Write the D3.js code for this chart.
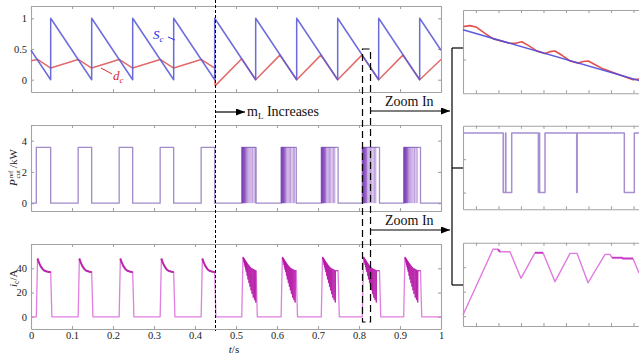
<!DOCTYPE html>
<html><head><meta charset="utf-8">
<script src="https://cdn.jsdelivr.net/npm/d3@7"></script>
<style>
body{margin:0;background:#fff;}
svg{display:block;font-family:"Liberation Serif","Times New Roman",serif;}
</style></head><body>
<script>
// ---------------- data ----------------
const xTicks = [0,0.1,0.2,0.3,0.4,0.5,0.6,0.7,0.8,0.9,1];
const ySTicks = [0,0.5,1];
const yPTicks = [0,2,4];
const yITicks = [0,20,40];
const zoomTicks = [0.81,0.8125,0.815,0.8175,0.82,0.8225,0.825,0.8275];

// carrier S_c
const scTime  = [0,0.048,0.048,0.148,0.148,0.248,0.248,0.348,0.348,0.448,0.448,0.548,0.548,0.648,0.648,0.748,0.748,0.848,0.848,0.948,0.948,1.0];
const scValue = [0.48,0,1,0,1,0,1,0,1,0,1,0,1,0,1,0,1,0,1,0,1,0.48];
// duty d_c
const dcTime  = [0,0.016,0.048,0.115,0.148,0.215,0.248,0.315,0.348,0.415,0.448,0.449,0.514,0.548,0.607,0.648,0.707,0.748,0.807,0.848,0.907,0.948,1.0];
const dcValue = [0.31,0.33,0.19,0.33,0.19,0.33,0.19,0.33,0.19,0.33,0.19,-0.1,0.34,0,0.40,0,0.40,0,0.40,0,0.40,0,0.33];

// P_cut^ref pulses
const pRise = [0.013,0.115,0.215,0.315,0.415,0.514,0.610,0.708,0.808,0.909];
const pFall = [0.048,0.148,0.248,0.348,0.448,0.549,0.647,0.749,0.850,0.950];
const pHigh = 3.57;
const chatterOffsets = [0.0008,0.0016,0.0024,0.0032,0.0040,0.0048,0.0057,0.0066,0.0076,0.0088,0.0100,0.0115,0.0140,0.0170,0.0200,0.0230,0.0265,0.0300,0.0330];

// i_c pulse shapes
const icShapeOffset = [0,0.003,0.006,0.010,0.015,0.020,0.026,0.030];
const icShapeValue  = [0,48,45,42,39.5,38,37.3,37];
const spikeOffset = [0.0035,0.005,0.0065,0.008,0.0095,0.011,0.013,0.015,0.0175,0.020,0.0225,0.025,0.028,0.031,0.034];
const spikeTop    = [49,48.2,47.4,46.6,45.8,45,44,43,42,41,40,39.5,39,38.5,38];
const spikeBottom = [47,45,43,41,39,37,34,31,28,25,22,19,16,14,12];

// zoomed window
const scZoomTime = [0.80856,0.82811];
const scZoomValue = [0.414,0.219];
const dcZoomTime  = [0.80859,0.80934,0.81008,0.81100,0.81193,0.81378,0.81440,0.81508,0.81590,0.81675,0.81767,0.81820,0.81878,0.81960,0.82045,0.82137,0.82190,0.82248,0.82330,0.82411,0.82600,0.82744,0.82811];
const dcZoomValue = [0.426,0.430,0.4235,0.4005,0.379,0.362,0.362,0.368,0.352,0.333,0.323,0.330,0.3325,0.315,0.294,0.286,0.292,0.294,0.279,0.264,0.240,0.222,0.225];
const pZoomTime  = [0.80856,0.81303,0.81303,0.81329,0.81329,0.81332,0.81332,0.81397,0.81397,0.81693,0.81693,0.81704,0.81704,0.81707,0.81707,0.81767,0.81767,0.82119,0.82119,0.82124,0.82124,0.82648,0.82648,0.82759,0.82759,0.82811];
const pZoomValue = [3.57,3.57,0,0,3.57,3.57,0,0,3.57,3.57,0,0,3.57,3.57,0,0,3.57,3.57,0,0,3.57,3.57,0,0,3.57,3.57];
const iZoomTime  = [0.80856,0.81189,0.81245,0.81267,0.81378,0.81500,0.81656,0.81745,0.81878,0.82045,0.82123,0.82245,0.82434,0.82489,0.82511,0.82622,0.82633,0.82744,0.82811];
const iZoomValue = [1,54.6,54.6,52.6,52.6,30.9,51.8,51.8,28.2,51.3,51.3,27.3,50.5,50.5,47.8,47.8,47.1,47.1,35.3];

// ---------------- drawing ----------------
const W = 639, H = 356;
const FONT = '"Liberation Serif","Times New Roman",serif';
const svg = d3.select("body").append("svg").attr("width", W).attr("height", H);

const x   = d3.scaleLinear().domain([0,1]).range([31,441]);
const yS  = d3.scaleLinear().domain([-0.2,1.2]).range([92,6]);
const yP  = d3.scaleLinear().domain([-0.5,5]).range([211,125]);
const yI  = d3.scaleLinear().domain([-10,60]).range([329,244]);
const xz  = d3.scaleLinear().domain([0.80856,0.82811]).range([463,639]);
const ySz = d3.scaleLinear().domain([0.17,0.49]).range([93.3,10]);
const yPz = d3.scaleLinear().domain([-1,4]).range([209.3,125.7]);
const yIz = d3.scaleLinear().domain([-8,60]).range([326,242.7]);

function frame(xs, ys, o) {
  const g = svg.append("g");
  const [yb, yt] = ys.range();
  const [xl, xr] = xs.range();
  const fmt = d3.format("~g");
  const none = () => "";
  g.append("g").attr("transform", `translate(0,${yb})`)
    .call(d3.axisBottom(xs).tickValues(o.xt).tickSizeInner(-3).tickSizeOuter(0).tickPadding(3).tickFormat(o.xLabels ? fmt : none));
  g.append("g").attr("transform", `translate(0,${yt})`)
    .call(d3.axisTop(xs).tickValues(o.xt).tickSizeInner(-3).tickSizeOuter(0).tickFormat(none));
  g.append("g").attr("transform", `translate(${xl},0)`)
    .call(d3.axisLeft(ys).tickValues(o.yt).tickSizeInner(-3).tickSizeOuter(0).tickPadding(4).tickFormat(o.yLabels ? fmt : none));
  if (o.right) g.append("g").attr("transform", `translate(${xr},0)`)
    .call(d3.axisRight(ys).tickValues(o.yt).tickSizeInner(-3).tickSizeOuter(0).tickFormat(none));
  g.selectAll(".domain, .tick line").attr("stroke", "#a3a3a3").attr("stroke-width", 1.1);
  g.selectAll(".tick text").attr("fill", "#222").style("font-size", "10.5px").style("font-family", FONT);
  return g;
}

const toPts = (t, v) => t.map((d, i) => [d, v[i]]);
function drawLine(xs, ys, pts, color, w, op) {
  svg.append("path").datum(pts)
    .attr("d", d3.line().x(d => xs(d[0])).y(d => ys(d[1])))
    .attr("fill", "none").attr("stroke", color).attr("stroke-width", w)
    .attr("stroke-opacity", op == null ? 1 : op).attr("stroke-linejoin", "round");
}

// frames
frame(x, yS, {xt: xTicks, yt: ySTicks, yLabels: true, right: true});
frame(x, yP, {xt: xTicks, yt: yPTicks, yLabels: true, right: true});
frame(x, yI, {xt: xTicks, yt: yITicks, yLabels: true, xLabels: true, right: true});
frame(xz, ySz, {xt: zoomTicks, yt: [0.3]});
frame(xz, yPz, {xt: zoomTicks, yt: [0,2]});
frame(xz, yIz, {xt: zoomTicks, yt: [0,20,40]});

// top panel
drawLine(x, yS, toPts(dcTime, dcValue), "#e26a6a", 1.5);
drawLine(x, yS, toPts(scTime, scValue), "#5b5bd6", 1.5, 0.9);

// middle panel
const pPts = [[0,0]];
pRise.forEach((r, i) => pPts.push([r,0],[r,pHigh],[pFall[i],pHigh],[pFall[i],0]));
pPts.push([1,0]);
drawLine(x, yP, pPts, "#a08bc8", 1.3);
pRise.slice(5).forEach(r => chatterOffsets.forEach(o => {
  drawLine(x, yP, [[r+o,pHigh],[r+o,0]], "#6a1fb0", 1, 0.45);
}));

// bottom panel
const icPts = [[0,0]];
const icDark = [];
pRise.forEach((r, i) => {
  const f = pFall[i];
  if (i < 5) {
    icShapeOffset.forEach((o, j) => icPts.push([r+o, icShapeValue[j]]));
    icPts.push([f, 37]);
    icDark.push(icShapeOffset.slice(1).map((o, j) => [r+o, icShapeValue[j+1]]).concat([[f,37]]));
  } else {
    const seg = [[r+0.003, 49]];
    icPts.push([r,0],[r+0.003,49]);
    spikeOffset.forEach((o, j) => {
      const pts = [[r+o, spikeTop[j]],[r+o+0.0002, spikeBottom[j]],[r+o+0.0004, spikeTop[j]]];
      icPts.push(...pts); seg.push(...pts);
    });
    icPts.push([f,38]); seg.push([f,38]);
    icDark.push(seg);
  }
  icPts.push([f+0.003,0]);
});
icPts.push([1,0]);
drawLine(x, yI, icPts, "#df7fdf", 1.3);
icDark.forEach((seg, i) => drawLine(x, yI, seg, "#b0149f", i < 5 ? 2 : 1, i < 5 ? 0.85 : 0.65));

// zoomed panels
drawLine(xz, ySz, toPts(dcZoomTime, dcZoomValue), "#e35050", 1.6);
drawLine(xz, ySz, toPts(scZoomTime, scZoomValue), "#4b4bdc", 1.6, 0.9);
drawLine(xz, yPz, toPts(pZoomTime, pZoomValue), "#a88fd2", 1.5);
drawLine(xz, yIz, toPts(iZoomTime, iZoomValue), "#e07ae0", 1.4);
[[2,4],[6,8],[12,13],[14,18]].forEach(([a,b]) =>
  drawLine(xz, yIz, toPts(iZoomTime.slice(a,b), iZoomValue.slice(a,b)), "#c02cc0", 2, 0.8));

// ---------------- labels ----------------
const sc = svg.append("text").attr("x", 153).attr("y", 39).attr("fill", "#2b2be6")
  .style("font-size", "13px").style("font-style", "italic");
sc.append("tspan").text("S");
sc.append("tspan").attr("dy", 3).style("font-size", "9px").text("c");
svg.append("line").attr("x1",168).attr("y1",37).attr("x2",175).attr("y2",40).attr("stroke","#2b2be6").attr("stroke-width",1);
const dc = svg.append("text").attr("x", 113).attr("y", 80).attr("fill", "#e02828")
  .style("font-size", "13px").style("font-style", "italic");
dc.append("tspan").text("d");
dc.append("tspan").attr("dy", 3).style("font-size", "9px").text("c");
svg.append("line").attr("x1",101).attr("y1",68).attr("x2",112).attr("y2",74).attr("stroke","#e02828").attr("stroke-width",1);

// y labels
const gp = svg.append("g").attr("transform", "translate(17,164) rotate(-90)").style("font-size","11px").attr("fill","#222");
gp.append("text").attr("x", -22).attr("y", 0).style("font-style","italic").text("P");
gp.append("text").attr("x", -14.5).attr("y", -4).style("font-size","7px").text("ref");
gp.append("text").attr("x", -14.5).attr("y", 3).style("font-size","7px").text("cut");
gp.append("text").attr("x", -4).attr("y", 0).text("/kW");
const gi = svg.append("g").attr("transform", "translate(17,277) rotate(-90)").style("font-size","11px").attr("fill","#222");
const it = gi.append("text").attr("x", -10).attr("y", 0);
it.append("tspan").style("font-style","italic").text("i");
it.append("tspan").attr("dy", 2).style("font-size","7.5px").text("c");
it.append("tspan").attr("dy", -2).text("/A");
// x label
const xl = svg.append("text").attr("x", 234).attr("y", 353).attr("text-anchor","middle").style("font-size","11px").attr("fill","#222");
xl.append("tspan").style("font-style","italic").text("t");
xl.append("tspan").text("/s");

// arrow marker
svg.append("defs").append("marker").attr("id","ah").attr("markerUnits","userSpaceOnUse")
  .attr("markerWidth",9).attr("markerHeight",7).attr("refX",9).attr("refY",3.5).attr("orient","auto")
  .append("path").attr("d","M0,0 L9,3.5 L0,7 Z").attr("fill","#000");

// vertical dashed line at 0.45
svg.append("line").attr("x1", x(0.45)).attr("x2", x(0.45)).attr("y1", 0).attr("y2", 331)
  .attr("stroke","#000").attr("stroke-width",1).attr("stroke-dasharray","3,2");
// dashed zoom rectangle
svg.append("rect").attr("x", x(0.80856)).attr("y", 49).attr("width", x(0.82811)-x(0.80856)).attr("height", 273)
  .attr("fill","none").attr("stroke","#000").attr("stroke-width",1.2).attr("stroke-dasharray","7,4");

// m_L increases
svg.append("line").attr("x1", x(0.45)).attr("y1",112).attr("x2",245).attr("y2",112)
  .attr("stroke","#000").attr("stroke-width",1.2).attr("marker-end","url(#ah)");
const ml = svg.append("text").attr("x",247).attr("y",116).style("font-size","14px").attr("fill","#111");
ml.append("tspan").text("m");
ml.append("tspan").attr("dy",3).style("font-size","9px").text("L");
ml.append("tspan").attr("dy",-3).text(" Increases");

// Zoom In arrows
[[111,106],[230,225]].forEach(([ay, ty]) => {
  svg.append("line").attr("x1", 371).attr("y1", ay).attr("x2", 450).attr("y2", ay)
    .attr("stroke","#000").attr("stroke-width",1.2).attr("marker-end","url(#ah)");
  svg.append("text").attr("x",385).attr("y",ty).style("font-size","14px").attr("fill","#111").text("Zoom In");
});
// bracket
svg.append("line").attr("x1",452).attr("x2",452).attr("y1",48).attr("y2",285).attr("stroke","#000").attr("stroke-width",1.2);
[48,168,285].forEach(yy => svg.append("line").attr("x1",452).attr("x2",463).attr("y1",yy).attr("y2",yy).attr("stroke","#000").attr("stroke-width",1.2));
</script>
</body></html>
